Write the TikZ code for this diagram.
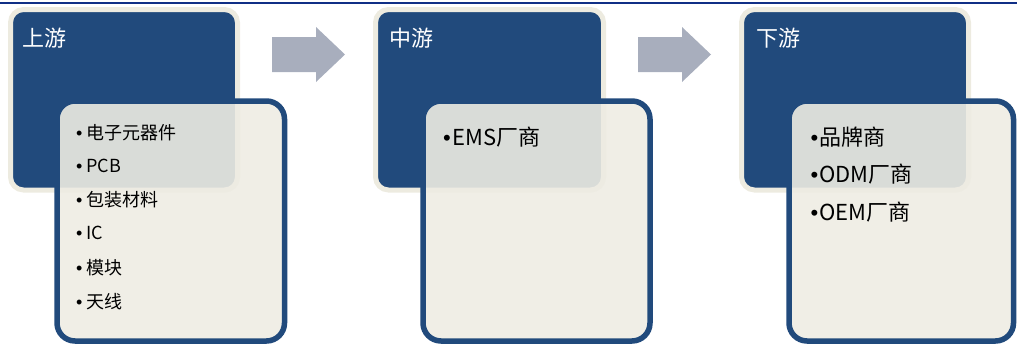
\documentclass[tikz,border=0pt]{standalone}
\usepackage{fontspec}
\setmainfont{Noto Sans CJK SC}
\newfontfamily\bulfont{Liberation Sans}
\newcommand{\bulmark}{{\bulfont •}}
\definecolor{topline}{HTML}{102F86}
\definecolor{darkbox}{HTML}{214A7C}
\definecolor{cream}{HTML}{EEECE3}
\definecolor{rim}{HTML}{EDEBE0}
\definecolor{arrowgray}{HTML}{A8AEBD}
\tikzset{
  upperbox/.style={fill=darkbox, draw=rim, line width=5pt, rounded corners=13pt},
  lowerbox/.style={fill=cream, fill opacity=0.9, draw=darkbox, draw opacity=1, line width=5.5pt, rounded corners=18pt},
  headtxt/.style={anchor=west, text=white, font=\fontsize{22}{24}\selectfont, inner sep=0pt},
  itemA/.style={anchor=west, text=black, font=\fontsize{18}{20}\selectfont, inner sep=0pt},
  itemB/.style={anchor=west, text=black, font=\fontsize{22}{24}\selectfont, inner sep=0pt},
  blockarrow/.style={fill=arrowgray, draw=none},
}
\begin{document}
\begin{tikzpicture}[x=1pt,y=-1pt]
\useasboundingbox (0,0) rectangle (1017,349);
\draw[topline, line width=2pt] (0,2.7) -- (1017,2.7);
% column 1
\draw[upperbox] (10.5,9.5) rectangle (237.5,190);
\node[headtxt] (h1) at (22,38) {上游};
\draw[lowerbox] (57,101) rectangle (284.5,341);
\node[itemA] (a1) at (76,133) {\bulmark\hspace{4pt}电子元器件};
\node[itemA] (a2) at (76,166) {\bulmark\hspace{4pt}PCB};
\node[itemA] (a3) at (76,200) {\bulmark\hspace{4pt}包装材料};
\node[itemA] (a4) at (76,233) {\bulmark\hspace{4pt}IC};
\node[itemA] (a5) at (76,268) {\bulmark\hspace{4pt}模块};
\node[itemA] (a6) at (76,302) {\bulmark\hspace{4pt}天线};
% arrow 1
\fill[blockarrow] (272,37) -- (316,37) -- (316,27) -- (345,54.5) -- (316,82) -- (316,72) -- (272,72) -- cycle;
% column 2
\draw[upperbox] (375.5,9.5) rectangle (603.5,190);
\node[headtxt] (h2) at (389,38) {中游};
\draw[lowerbox] (423,101) rectangle (650,341);
\node[itemB] (b1) at (443,137) {\bulmark\hspace{2pt}EMS厂商};
% arrow 2
\fill[blockarrow] (638,37) -- (682,37) -- (682,27) -- (711,54.5) -- (682,82) -- (682,72) -- (638,72) -- cycle;
% column 3
\draw[upperbox] (741.5,9.5) rectangle (968.5,190);
\node[headtxt] (h3) at (756,38) {下游};
\draw[lowerbox] (789,101) rectangle (1013.5,341);
\node[itemB] (c1) at (810.5,137) {\bulmark\hspace{1pt}品牌商};
\node[itemB] (c2) at (810.5,174) {\bulmark\hspace{1pt}ODM厂商};
\node[itemB] (c3) at (810.5,212) {\bulmark\hspace{1pt}OEM厂商};
\end{tikzpicture}
\end{document}
